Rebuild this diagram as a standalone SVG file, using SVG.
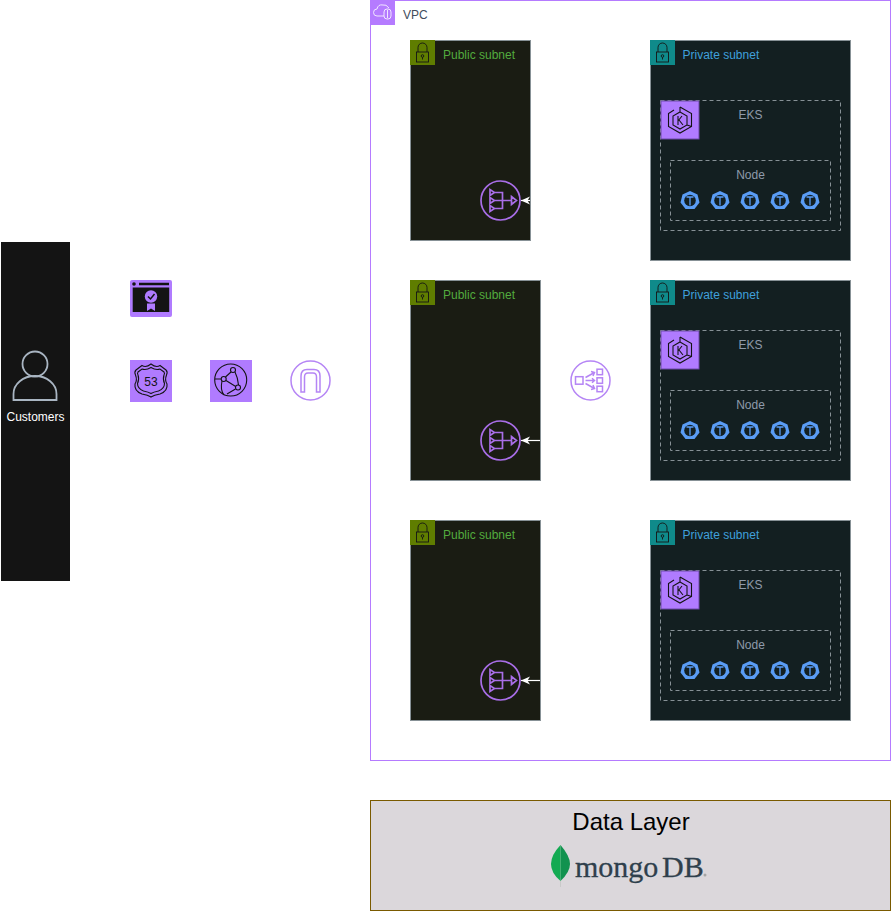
<svg xmlns="http://www.w3.org/2000/svg" width="891" height="912" viewBox="0 0 891 912">
<style>
text{font-family:"Liberation Sans",Arial,sans-serif;font-size:12px}
.pub{fill:#1a1c13;stroke:#879196}
.pri{fill:#131f21;stroke:#879196}
.dash{fill:none;stroke:#879196;stroke-dasharray:4 3}
.pubt{fill:#52ab3e}.prit{fill:#3fa0dc}.grey{fill:#8e9aaa;text-anchor:middle}
.ink{fill:none;stroke:#141414;stroke-width:1.1}
.vio{fill:none;stroke:#a96ee8;stroke-width:1.700}
.lav{fill:none;stroke:#b585f5;stroke-width:1.500}
.ln{fill:none;stroke:#fff;stroke-width:1.200}
.lk{fill:none;stroke:#141414;stroke-width:.9}
.mdb{font-family:"Liberation Serif",serif;font-size:30px;fill:#2f3f4c;stroke:#2f3f4c;stroke-width:.3}
</style>
<defs>
<marker id="arr" markerWidth="10" markerHeight="10" refX="9" refY="4" orient="auto" markerUnits="userSpaceOnUse" viewBox="0 0 10 8"><path d="M0 0L9 4L0 8L2.500 4Z" fill="#fff"/></marker>
<g id="lock"><path class="lk" d="M8 12V7.500a4.500 4.500 0 0 1 9 0V12"/><rect class="lk" x="6.500" y="12" width="12" height="10"/><circle class="lk" cx="12.500" cy="16" r="1.300"/><path class="lk" d="M12.500 17.300V19.500"/></g>
<g id="nat"><circle r="19.500" class="vio"/><path class="vio" d="M-10.500-11v6l4.500-3zM-10.500-3v6l4.500-3zM-10.500 5v6l4.500-3zM-6-8H2V8H-6M-6 0H11M11-4v8l5-4z"/></g>
<g id="eks"><rect width="38" height="38" fill="#b07bff" stroke="#6d4aa8"/><path class="ink" d="M19 6l11.500 6.500v13L19 32l-11.500-6.500v-13L13 9M19 6V11M19 11l7 4v9l-7 4-7-4v-9zM26 24l4.500 1.500"/><path class="ink" d="M17 15v9M17 20l4-5M18 19l4 5"/></g>
<g id="pod"><path d="M0-9.500L7.500-6 9.500 2 4.500 8.500H-4.500L-9.500 2-7.500-6Z" fill="#5a9cf5"/><circle r="5.800" fill="#131f21"/><path d="M-3.500-3.500H3.500M0-3.500V5" stroke="#5a9cf5" stroke-width="1.300"/></g>
<g id="pods"><use href="#pod" x="690"/><use href="#pod" x="720"/><use href="#pod" x="750"/><use href="#pod" x="780"/><use href="#pod" x="810"/></g>
</defs>

<g id="customers">
<rect x="1" y="242" width="69" height="339" fill="#141414"/>
<circle cx="35" cy="364" r="12.500" fill="none" stroke="#a9b5c2" stroke-width="1.800"/>
<path d="M13.500 400V394a21.500 18 0 0 1 43 0V400Z" fill="none" stroke="#a9b5c2" stroke-width="1.800"/>
<text x="35.500" y="421" fill="#fff" text-anchor="middle">Customers</text>
</g>

<g id="certificate-manager">
<rect x="130" y="280" width="42" height="37" rx="2" fill="#b07bff"/>
<rect x="132.700" y="287.500" width="36.500" height="24.500" fill="#141414"/>
<path d="M139 284H169" stroke="#141414" stroke-width="2.500"/><circle cx="134" cy="284" r="1.800" fill="#141414"/>
<circle cx="151" cy="296.500" r="6.200" fill="#b07bff"/><path d="M148 296.500l2.500 2.500 4-5" fill="none" stroke="#141414" stroke-width="1.500"/>
<path d="M147 303.500H155V311L151 308.500 147 311Z" fill="#b07bff"/>
</g>
<g id="route53">
<rect x="130" y="360" width="42" height="42" fill="#b07bff"/>
<path class="ink" d="M151 364q5 4 9 1.500l6 4.500q2 2 .5 5-2 5 .5 9 1 7-7 10-6 1-9 3-3-2-9-3-8-3-7-10 2.500-4 .5-9-1.500-3 .5-5l6-4.500q4 2.500 9-1.500Z"/>
<path class="ink" d="M151 367.500q5 3 9 1.500l4 3q1 1.500 0 3-1.500 4.500.5 8.500 0 5-6 7.500-5 1-7.500 2.500-2.500-1.500-7.500-2.500-6-2.500-6-7.500 2-4 .5-8.500-1-1.500 0-3l4-3q4 1.500 9-1.500Z"/>
<text x="151" y="386" text-anchor="middle" fill="#141414">53</text>
</g>
<g id="cloudfront">
<rect x="210" y="360" width="42" height="42" fill="#b07bff"/>
<circle cx="230.700" cy="380" r="16" class="ink"/>
<circle cx="233" cy="370" r="2.500" class="ink"/><circle cx="223.700" cy="379" r="2.500" class="ink"/><circle cx="238" cy="387.500" r="2.500" class="ink"/>
<path class="ink" d="M231 372L225.500 377M235 372Q238 378 238.500 385M226 380.500L235.700 386.500M215 379H221M235.500 389L227 394M222 381Q220 390 224 395"/>
</g>
<g id="internet-gateway">
<circle cx="310.500" cy="380.500" r="19.500" class="lav"/>
<path class="lav" d="M301 392V376Q301 369.500 307 369.500H314Q320 369.500 320 376V392H316.500V377Q316.500 373 313 373H308Q304.500 373 304.500 377V392Z"/>
</g>

<g id="vpc">
<rect x="370.500" y="0.500" width="520" height="760" fill="#fff" stroke="#b57bff"/>
<rect x="370" y="0" width="25" height="25" fill="#b57bff"/>
<path d="M377 16h7M377 16a3.500 3.500 0 0 1 0-7q1-5 6-4 3-1 6 3" fill="none" stroke="#f1e6ff"/>
<rect x="384" y="9" width="7" height="10" rx="3" fill="none" stroke="#f1e6ff"/><path d="M387.500 10V18" stroke="#f1e6ff"/>
<text x="403" y="19" fill="#414d5c">VPC</text>
</g>

<g id="public-subnet-1"><rect class="pub" x="410.500" y="40.500" width="120" height="200"/><rect x="410" y="40" width="25" height="25" fill="#5f7d00"/><use href="#lock" x="410" y="40"/><text class="pubt" x="443" y="59">Public subnet</text></g>
<g id="public-subnet-2"><rect class="pub" x="410.500" y="280.500" width="130" height="200"/><rect x="410" y="280" width="25" height="25" fill="#5f7d00"/><use href="#lock" x="410" y="280"/><text class="pubt" x="443" y="299">Public subnet</text></g>
<g id="public-subnet-3"><rect class="pub" x="410.500" y="520.500" width="130" height="200"/><rect x="410" y="520" width="25" height="25" fill="#5f7d00"/><use href="#lock" x="410" y="520"/><text class="pubt" x="443" y="539">Public subnet</text></g>

<g id="nat-gateway-1"><use href="#nat" x="500.500" y="200.500"/></g>
<g id="nat-gateway-2"><use href="#nat" x="500.500" y="440.500"/></g>
<g id="nat-gateway-3"><use href="#nat" x="500.500" y="680.500"/></g>

<g id="load-balancer">
<circle cx="590.500" cy="380.500" r="19.500" class="lav"/>
<rect x="575.500" y="376.700" width="7.500" height="7.500" class="lav"/><rect x="597" y="369.200" width="5.500" height="5.500" class="lav"/><rect x="597" y="377.800" width="5.500" height="5.500" class="lav"/><rect x="597" y="386.200" width="5.500" height="5.500" class="lav"/>
<path class="lav" d="M585.500 377.500L594.500 372.500M585.500 380.500H594.500M585.500 383.500L594.500 388.500M591 371.500L594.500 372.500 593 376M592 378.300L594.500 380.500 592 382.700M593 385L594.500 388.500 591 389.500"/>
</g>

<g id="private-subnet-1"><rect class="pri" x="650.500" y="40.500" width="200" height="220"/><rect x="650" y="40" width="25" height="25" fill="#0f8a8a"/><use href="#lock" x="650" y="40"/><text class="prit" x="682.500" y="59">Private subnet</text></g>
<g id="eks-1"><rect class="dash" x="660.500" y="100.500" width="180" height="130"/><use href="#eks" x="661" y="101"/><text class="grey" x="750.500" y="119">EKS</text></g>
<g id="node-1"><rect class="dash" x="670.500" y="160.500" width="160" height="60"/><text class="grey" x="750.500" y="179">Node</text><use href="#pods" y="200.500"/></g>

<g id="private-subnet-2"><rect class="pri" x="650.500" y="280.500" width="200" height="200"/><rect x="650" y="280" width="25" height="25" fill="#0f8a8a"/><use href="#lock" x="650" y="280"/><text class="prit" x="682.500" y="299">Private subnet</text></g>
<g id="eks-2"><rect class="dash" x="660.500" y="330.500" width="180" height="130"/><use href="#eks" x="661" y="331"/><text class="grey" x="750.500" y="349">EKS</text></g>
<g id="node-2"><rect class="dash" x="670.500" y="390.500" width="160" height="60"/><text class="grey" x="750.500" y="409">Node</text><use href="#pods" y="430.500"/></g>

<g id="private-subnet-3"><rect class="pri" x="650.500" y="520.500" width="200" height="200"/><rect x="650" y="520" width="25" height="25" fill="#0f8a8a"/><use href="#lock" x="650" y="520"/><text class="prit" x="682.500" y="539">Private subnet</text></g>
<g id="eks-3"><rect class="dash" x="660.500" y="570.500" width="180" height="130"/><use href="#eks" x="661" y="571"/><text class="grey" x="750.500" y="589">EKS</text></g>
<g id="node-3"><rect class="dash" x="670.500" y="630.500" width="160" height="60"/><text class="grey" x="750.500" y="649">Node</text><use href="#pods" y="670.500"/></g>

<g id="connectors">
<path class="ln" d="M530 200.500H521" marker-end="url(#arr)"/>
<path class="ln" d="M540 440.500H521" marker-end="url(#arr)"/>
<path class="ln" d="M540 680.500H521" marker-end="url(#arr)"/>
</g>

<g id="data-layer">
<rect x="370.500" y="800.500" width="520" height="110" fill="#dbd7db" stroke="#7a5a00"/>
<text x="631" y="830" text-anchor="middle" fill="#000" style="font-size:24px">Data Layer</text>
<path d="M560.500 845Q570 856 570 864T560.500 881Z" fill="#12924f"/>
<path d="M560.500 845Q551 855 551 864T560.500 881Z" fill="#13aa52"/>
<path d="M560.500 881V887" stroke="#c9c9c9"/>
<text class="mdb" x="575" y="877">mongo</text>
<text class="mdb" x="662" y="877">DB</text>
<circle cx="705" cy="875" r="1.500" fill="#a5a5a5"/>
</g>
</svg>
